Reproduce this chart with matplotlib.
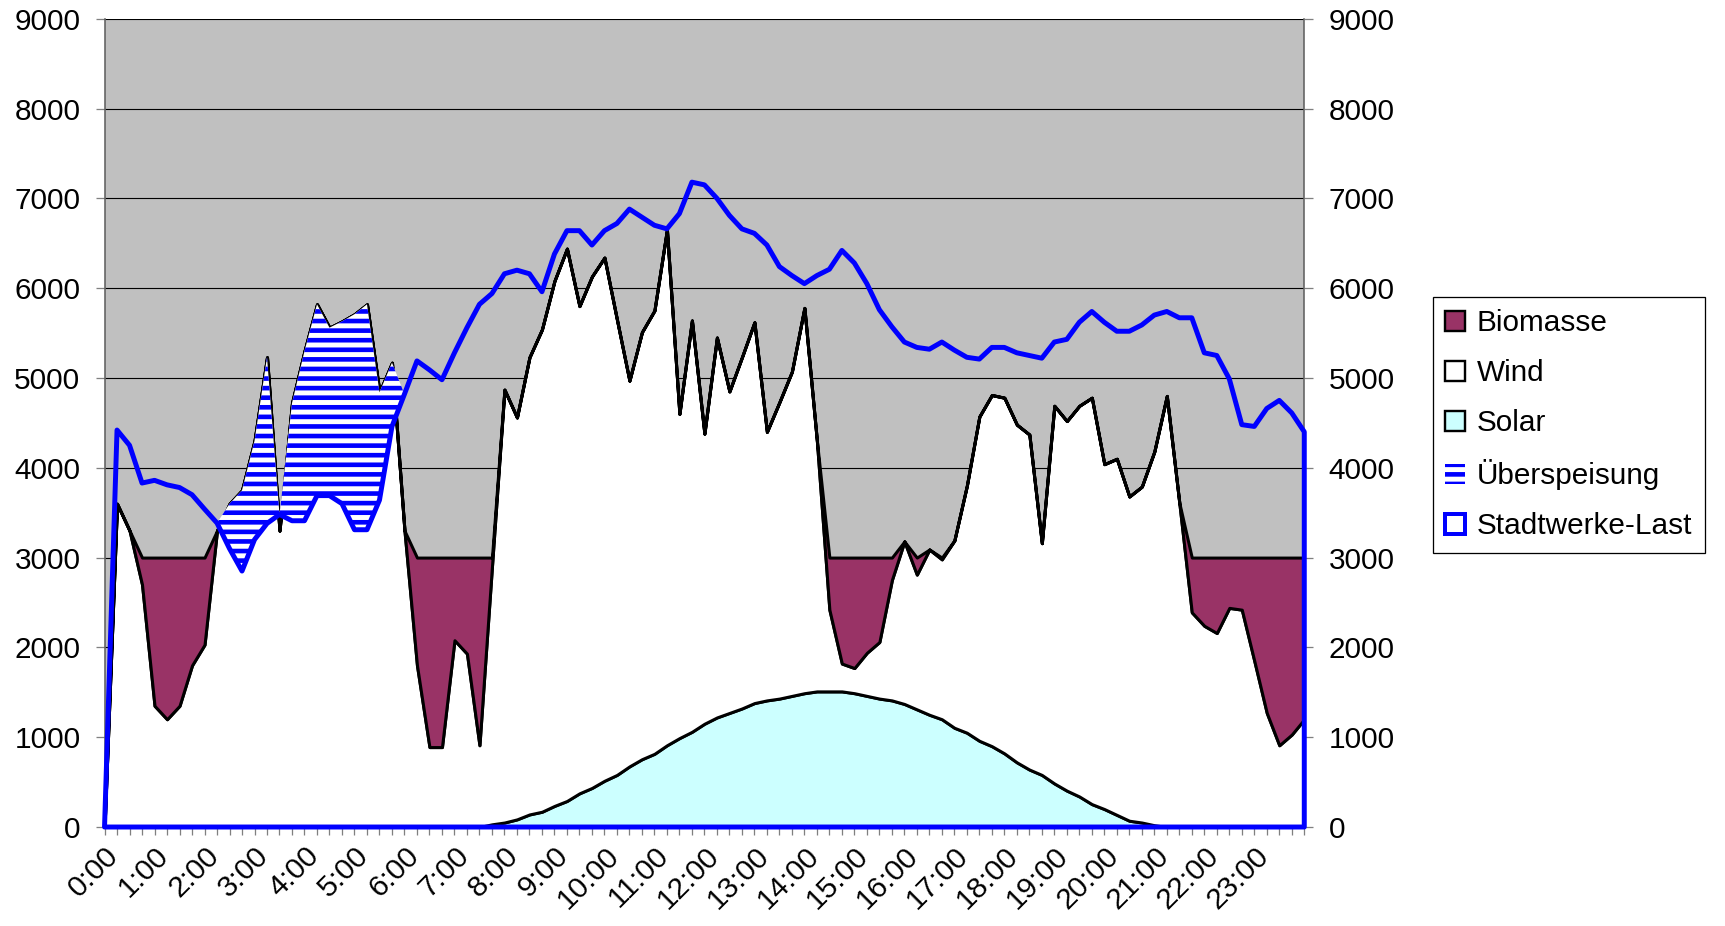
import numpy as np
import matplotlib.pyplot as plt
from matplotlib.patches import Patch

plt.rcParams['font.family'] = ['Liberation Sans', 'DejaVu Sans']
plt.rcParams['hatch.linewidth'] = 2.9

# Viertelstundenwerte in kW, Index 0 = leerer Startwert
solar = [0, 0, 0, 0, 0, 0, 0, 0, 0, 0, 0, 0, 0, 0, 0, 0, 0, 0, 0, 0,
         0, 0, 0, 0, 0, 0, 0, 0, 0, 0, 0, 30, 50, 85, 140, 170, 235, 290, 375, 435,
         515, 580, 675, 755, 815, 910, 990, 1060, 1150, 1220, 1270, 1320, 1380, 1410, 1430, 1460, 1490, 1510, 1510, 1510,
         1490, 1460, 1430, 1410, 1370, 1310, 1250, 1200, 1105, 1050, 960, 900, 820, 720, 640, 580, 485, 405, 340, 255,
         200, 135, 70, 50, 20, 0, 0, 0, 0, 0, 0, 0, 0, 0, 0, 0, 0]
wind = [0, 3600, 3300, 2700, 1350, 1200, 1350, 1800, 2030, 3300, 3600, 3750, 4300, 5230, 3300, 4720, 5300, 5820, 5560, 5630,
        5710, 5820, 4840, 5170, 3300, 1800, 890, 890, 2080, 1930, 910, 2870, 4820, 4475, 5090, 5370, 5845, 6150, 5425, 5695,
        5825, 5070, 4295, 4755, 4935, 5740, 3610, 4580, 3230, 4230, 3580, 3910, 4240, 2990, 3300, 3610, 4290, 2790, 910, 310,
        280, 480, 630, 1340, 1810, 1500, 1840, 1780, 2085, 2750, 3610, 3910, 3960, 3760, 3730, 2580, 4205, 4115, 4350, 4525,
        3840, 3965, 3610, 3740, 4160, 4800, 3610, 2390, 2240, 2160, 2440, 2420, 1850, 1270, 910, 1030, 1200]
biomasse = [0, 0, 0, 300, 1650, 1800, 1650, 1200, 970, 0, 0, 0, 0, 0, 0, 0, 0, 0, 0, 0,
            0, 0, 0, 0, 0, 1200, 2110, 2110, 920, 1070, 2090, 100, 0, 0, 0, 0, 0, 0, 0, 0,
            0, 0, 0, 0, 0, 0, 0, 0, 0, 0, 0, 0, 0, 0, 0, 0, 0, 0, 580, 1180,
            1230, 1060, 940, 250, 0, 190, 0, 20, 0, 0, 0, 0, 0, 0, 0, 0, 0, 0, 0, 0,
            0, 0, 0, 0, 0, 0, 0, 610, 760, 840, 560, 580, 1150, 1730, 2090, 1970, 1800]
ueberspeisung = [0, 0, 0, 0, 0, 0, 0, 0, 0, 0, 500, 900, 1100, 1850, 0, 1310, 1890, 2130, 1870, 2030,
                 2400, 2510, 1200, 710, 0, 0, 0, 0, 0, 0, 0, 0, 0, 0, 0, 0, 0, 0, 0, 0,
                 0, 0, 0, 0, 0, 0, 0, 0, 0, 0, 0, 0, 0, 0, 0, 0, 0, 0, 0, 0,
                 0, 0, 0, 0, 0, 0, 0, 0, 0, 0, 0, 0, 0, 0, 0, 0, 0, 0, 0, 0,
                 0, 0, 0, 0, 0, 0, 0, 0, 0, 0, 0, 0, 0, 0, 0, 0, 0]
last = [0, 4420, 4250, 3830, 3860, 3810, 3780, 3700, 3540, 3385, 3100, 2850, 3200, 3380, 3480, 3410, 3410, 3690, 3690, 3600,
        3310, 3310, 3640, 4460, 4820, 5190, 5090, 4980, 5280, 5560, 5820, 5940, 6160, 6200, 6160, 5960, 6380, 6640, 6640, 6480,
        6640, 6720, 6880, 6790, 6700, 6660, 6830, 7180, 7150, 7000, 6810, 6660, 6610, 6480, 6240, 6140, 6050, 6140, 6210, 6420,
        6280, 6050, 5760, 5570, 5400, 5340, 5320, 5400, 5310, 5230, 5210, 5340, 5340, 5280, 5250, 5220, 5400, 5430, 5620, 5740,
        5620, 5520, 5520, 5590, 5700, 5740, 5670, 5670, 5280, 5250, 4990, 4480, 4460, 4660, 4750, 4610, 4400]
stunden = ['%d:00' % h for h in range(24)]

x = np.arange(len(last))
s = np.array(solar)
w = s + np.array(wind)
b = w + np.array(biomasse)
l = np.array(last)
u = l + np.array(ueberspeisung)

lila = '#993366'
cyan = '#CCFFFF'
blau = '#0000FF'

fig = plt.figure(figsize=(15, 8.0522), dpi=115)
ax = fig.add_axes([0.0606, 0.1069, 0.6955, 0.8729])
ax.set_facecolor('#C0C0C0')

ax.fill_between(x, 0, s, facecolor=cyan, edgecolor='black', lw=1.9, zorder=2)
ax.fill_between(x, s, w, facecolor='white', edgecolor='black', lw=1.9, zorder=3)
ax.fill_between(x, w, b, facecolor=lila, edgecolor='black', lw=1.9, zorder=4)
ax.fill_between(x, l, u, facecolor='white', edgecolor=blau, lw=0, hatch='--', zorder=5)
ax.fill_between(x, 0, l, facecolor='none', edgecolor=blau, lw=3.1, zorder=6, clip_on=False)

ax.set_xlim(0, 96)
ax.set_ylim(0, 9000)
ax.set_yticks(range(0, 9001, 1000))
ax.set_xticks(x)
ax.set_xticklabels([stunden[i // 4] if i % 4 == 0 and i < 96 else '' for i in x],
                   rotation=45, ha='right', rotation_mode='anchor')
ax.yaxis.grid(True, color='black', lw=0.7)
ax.set_axisbelow(True)

ax.tick_params(axis='y', left=True, right=True, labelleft=True, labelright=True,
               direction='out', length=5.6, width=0.8, color='#808080', labelsize=18.6, pad=9.5)
ax.tick_params(axis='x', direction='out', length=5, width=0.8, color='#808080', labelsize=18.6, pad=4)
ax.spines['top'].set_visible(False)
for sp in ['left', 'right', 'bottom']:
    ax.spines[sp].set_color('#606060')
    ax.spines[sp].set_linewidth(1.0)

handles = [Patch(facecolor=lila, edgecolor='black', lw=1.5),
           Patch(facecolor='white', edgecolor='black', lw=1.5),
           Patch(facecolor=cyan, edgecolor='black', lw=1.5),
           Patch(facecolor='white', edgecolor=blau, lw=0, hatch='--'),
           Patch(facecolor='white', edgecolor=blau, lw=2.5)]
labels = ['Biomasse', 'Wind', 'Solar', 'Überspeisung', 'Stadtwerke-Last']
leg = fig.legend(handles, labels, loc='upper left', bbox_to_anchor=(0.8307, 0.6793),
                 bbox_transform=fig.transFigure, borderaxespad=0, fontsize=18.6,
                 handlelength=0.65, handleheight=0.65, handletextpad=0.4,
                 labelspacing=0.74, borderpad=0.42, fancybox=False, framealpha=1)
leg.get_frame().set_edgecolor('black')
leg.get_frame().set_linewidth(0.8)

fig.savefig('out.png', dpi=115)
